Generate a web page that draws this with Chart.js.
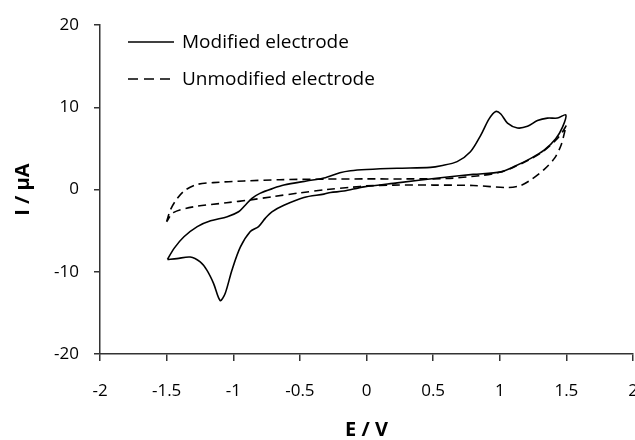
<!DOCTYPE html>
<html>
<head>
<meta charset="utf-8">
<script src="https://cdn.jsdelivr.net/npm/chart.js@4"></script>
<style>
    html, body { margin: 0; padding: 0; background: #fff; overflow: hidden; }
    #cv { display: block; }
</style>
</head>
<body>
<canvas id="cv" width="660" height="440"></canvas>
<script>
/* Cyclic voltammograms: modified vs unmodified electrode */

const FONT = "'Open Sans', sans-serif";

// Modified electrode: anodic sweep -1.5 -> 1.5 V, then back
const modE = [-1.494, -1.444, -1.37, -1.27, -1.17, -1.045, -0.96, -0.91, -0.86, -0.8, -0.7, -0.62, -0.45, -0.32, -0.2, -0.12, 0, 0.23, 0.48, 0.56, 0.68, 0.78, 0.857, 0.92, 0.97, 1.008, 1.058, 1.133, 1.208, 1.283, 1.358, 1.433, 1.496,
    1.471, 1.42, 1.333, 1.233, 1.108, 1.008, 0.8, 0.556, 0.23, -0.02, -0.17, -0.27, -0.32, -0.47, -0.62, -0.71, -0.76, -0.81, -0.872, -0.947, -1.01, -1.06, -1.098, -1.148, -1.198, -1.248, -1.323, -1.423, -1.494];
const modI = [-8.5, -7.15, -5.74, -4.5, -3.8, -3.3, -2.7, -1.9, -1.07, -0.46, 0.15, 0.55, 1.05, 1.4, 2.05, 2.3, 2.45, 2.6, 2.7, 2.9, 3.4, 4.6, 6.6, 8.6, 9.5, 9.2, 8.1, 7.5, 7.7, 8.4, 8.7, 8.7, 9.1,
    7.6, 6.2, 4.8, 3.8, 2.8, 2.16, 1.85, 1.44, 0.82, 0.33, -0.18, -0.35, -0.55, -0.95, -1.9, -2.7, -3.5, -4.5, -5.1, -7.0, -9.8, -12.6, -13.5, -11.4, -9.8, -8.8, -8.2, -8.4, -8.5];

// Unmodified electrode
const unmodE = [-1.5, -1.47, -1.42, -1.36, -1.27, -1.15, -0.92, -0.65, -0.3, 0, 0.3, 0.6, 0.85, 1.0, 1.1, 1.23, 1.33, 1.42, 1.47, 1.5,
    1.496, 1.46, 1.41, 1.33, 1.23, 1.15, 1.06, 0.8, 0.5, 0.2, 0, -0.1, -0.3, -0.5, -0.7, -0.87, -1.05, -1.3, -1.45, -1.5];
const unmodI = [-3.9, -2.4, -1.07, -0.06, 0.63, 0.85, 1.05, 1.2, 1.28, 1.3, 1.3, 1.35, 1.7, 2.1, 2.7, 3.7, 4.7, 6.0, 7.0, 7.8,
    7.6, 5.4, 3.8, 2.4, 1.15, 0.46, 0.25, 0.5, 0.55, 0.55, 0.45, 0.3, 0.0, -0.4, -0.85, -1.25, -1.6, -2.1, -2.8, -3.9];

const seriesLabels = ['Modified electrode', 'Unmodified electrode'];
const xTicks = [-2, -1.5, -1, -0.5, 0, 0.5, 1, 1.5, 2];
const yTicks = [-20, -10, 0, 10, 20];

const toPoints = (xs, ys) => xs.map((x, i) => ({ x, y: ys[i] }));

// legend drawn inside the plot, top-left
const insideLegend = {
    id: 'insideLegend',
    afterDraw(chart) {
        const { ctx } = chart;
        ctx.save();
        ctx.font = `19px ${FONT}`;
        ctx.textBaseline = 'middle';
        chart.data.datasets.forEach((ds, i) => {
            const y = 42 + i * 37;
            ctx.strokeStyle = ds.borderColor;
            ctx.lineWidth = ds.borderWidth;
            ctx.setLineDash(ds.borderDash ? [10, 6] : []);
            ctx.beginPath();
            ctx.moveTo(128, y);
            ctx.lineTo(174, y);
            ctx.stroke();
            ctx.fillStyle = '#000';
            ctx.fillText(ds.label, 182, y + 1);
        });
        ctx.restore();
    }
};

const lineDs = (label, pts, dash) => ({
    label,
    data: pts,
    showLine: true,
    borderColor: '#000',
    borderWidth: 1.6,
    borderDash: dash,
    pointRadius: 0,
    tension: 0.3,
    fill: false
});

new Chart(document.getElementById('cv'), {
    type: 'scatter',
    data: {
        datasets: [
            lineDs(seriesLabels[0], toPoints(modE, modI), undefined),
            lineDs(seriesLabels[1], toPoints(unmodE, unmodI), [8, 5])
        ]
    },
    options: {
        responsive: false,
        animation: false,
        devicePixelRatio: 1,
        layout: { padding: { top: 25, right: 27, left: 0, bottom: 0 } },
        plugins: { legend: { display: false }, tooltip: { enabled: false } },
        scales: {
            x: {
                type: 'linear',
                min: -2, max: 2,
                afterBuildTicks: s => { s.ticks = xTicks.map(v => ({ value: v })); },
                afterFit: s => { s.height = 86; },
                grid: { display: true, drawOnChartArea: false, tickLength: 7, color: '#333', lineWidth: 1.5 },
                border: { display: true, color: '#333', width: 1.5 },
                ticks: { color: '#000', font: { family: FONT, size: 17 }, padding: 20, maxRotation: 0, callback: v => String(v) },
                title: { display: true, text: 'E / V', color: '#000', font: { family: FONT, size: 20, weight: 'bold', lineHeight: 1 }, padding: 0 }
            },
            y: {
                type: 'linear',
                min: -20, max: 20,
                afterBuildTicks: s => { s.ticks = yTicks.map(v => ({ value: v })); },
                afterFit: s => { s.width = 100; },
                grid: { display: true, drawOnChartArea: false, tickLength: 6, color: '#333', lineWidth: 1.5 },
                border: { display: true, color: '#333', width: 1.5 },
                ticks: { color: '#000', font: { family: FONT, size: 17 }, padding: 15, callback: v => String(v) },
                title: { display: true, text: 'I / µA', color: '#000', font: { family: FONT, size: 20, weight: 'bold', lineHeight: 1.2 }, padding: { top: 11, bottom: 0 } }
            }
        }
    },
    plugins: [insideLegend]
});
</script>
</body>
</html>
